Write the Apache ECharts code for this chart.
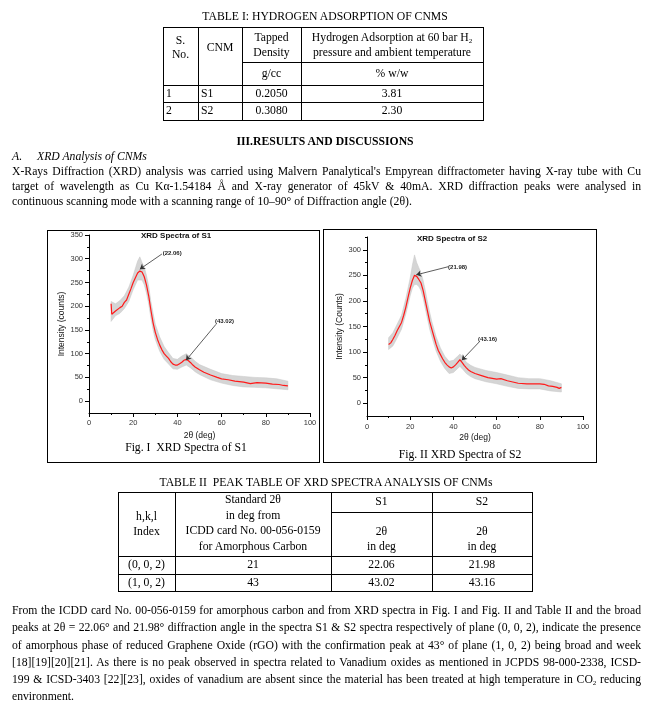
<!DOCTYPE html>
<html><head><meta charset="utf-8">
<script src="https://cdn.jsdelivr.net/npm/echarts@6/dist/echarts.min.js"></script>
<style>
body{margin:0;background:#fff;}
#page{position:relative;width:652px;height:702px;overflow:hidden;font-family:'Liberation Serif','Times New Roman',serif;color:#000;font-size:11.7px;}
#chart{position:absolute;left:0;top:0;width:652px;height:702px;}
.t{position:absolute;white-space:nowrap;line-height:14px;height:14px;z-index:2;}
.c{transform:translateX(-50%);}
.j{position:absolute;left:12px;width:629px;text-align:justify;text-align-last:justify;line-height:14px;z-index:2;}
.h{position:absolute;height:1px;background:#000;z-index:2;}
.v{position:absolute;width:1px;background:#000;z-index:2;}
.box{position:absolute;border:1px solid #000;box-sizing:border-box;z-index:2;}
sub{font-size:7px;vertical-align:-2px;line-height:0;}
</style></head>
<body><div id="page">
<div id="chart"></div>

<!-- Table I -->
<div class="t c" style="left:325px;top:10px;">TABLE I: HYDROGEN ADSORPTION OF CNMS</div>
<div class="h" style="left:163px;width:321px;top:27px;"></div>
<div class="h" style="left:242px;width:242px;top:62px;"></div>
<div class="h" style="left:163px;width:321px;top:85px;"></div>
<div class="h" style="left:163px;width:321px;top:102px;"></div>
<div class="h" style="left:163px;width:321px;top:120px;"></div>
<div class="v" style="left:163px;top:27px;height:94px;"></div>
<div class="v" style="left:198px;top:27px;height:94px;"></div>
<div class="v" style="left:242px;top:27px;height:94px;"></div>
<div class="v" style="left:301px;top:27px;height:94px;"></div>
<div class="v" style="left:483px;top:27px;height:94px;"></div>
<div class="t c" style="left:180.5px;top:34px;">S.</div>
<div class="t c" style="left:180.5px;top:48px;">No.</div>
<div class="t c" style="left:220px;top:41px;">CNM</div>
<div class="t c" style="left:271.5px;top:31px;">Tapped</div>
<div class="t c" style="left:271.5px;top:46px;">Density</div>
<div class="t c" style="left:392px;top:31px;">Hydrogen Adsorption at 60 bar H<sub>2</sub></div>
<div class="t c" style="left:392px;top:46px;">pressure and ambient temperature</div>
<div class="t c" style="left:271.5px;top:67px;">g/cc</div>
<div class="t c" style="left:392px;top:67px;">% w/w</div>
<div class="t" style="left:166px;top:86.5px;">1</div>
<div class="t" style="left:201px;top:86.5px;">S1</div>
<div class="t c" style="left:271.5px;top:86.5px;">0.2050</div>
<div class="t c" style="left:392px;top:86.5px;">3.81</div>
<div class="t" style="left:166px;top:104px;">2</div>
<div class="t" style="left:201px;top:104px;">S2</div>
<div class="t c" style="left:271.5px;top:104px;">0.3080</div>
<div class="t c" style="left:392px;top:104px;">2.30</div>

<!-- Section -->
<div class="t c" style="left:325px;top:135px;font-weight:bold;">III.RESULTS AND DISCUSSIONS</div>
<div class="t" style="left:12px;top:150px;font-style:italic;">A.</div>
<div class="t" style="left:37px;top:150px;font-style:italic;">XRD Analysis of CNMs</div>
<div class="j" style="top:165px;">X-Rays Diffraction (XRD) analysis was carried using Malvern Panalytical's Empyrean diffractometer having X-ray tube with Cu</div>
<div class="j" style="top:180px;">target of wavelength as Cu Kα-1.54184 Å and X-ray generator of 45kV &amp; 40mA. XRD diffraction peaks were analysed in</div>
<div class="t" style="left:12px;top:195px;">continuous scanning mode with a scanning range of 10–90° of Diffraction angle (2θ).</div>

<!-- Figure boxes and captions -->
<div class="box" style="left:47px;top:230px;width:273px;height:233px;"></div>
<div class="box" style="left:323px;top:229px;width:274px;height:234px;"></div>
<div class="t c" style="left:186px;top:441px;">Fig. I&nbsp; XRD Spectra of S1</div>
<div class="t c" style="left:460px;top:448px;">Fig. II XRD Spectra of S2</div>

<!-- Table II -->
<div class="t c" style="left:326px;top:476px;">TABLE II&nbsp; PEAK TABLE OF XRD SPECTRA ANALYSIS OF CNMs</div>
<div class="h" style="left:118px;width:415px;top:492px;"></div>
<div class="h" style="left:331px;width:202px;top:512px;"></div>
<div class="h" style="left:118px;width:415px;top:556px;"></div>
<div class="h" style="left:118px;width:415px;top:574px;"></div>
<div class="h" style="left:118px;width:415px;top:591px;"></div>
<div class="v" style="left:118px;top:492px;height:100px;"></div>
<div class="v" style="left:175px;top:492px;height:100px;"></div>
<div class="v" style="left:331px;top:492px;height:100px;"></div>
<div class="v" style="left:432px;top:492px;height:100px;"></div>
<div class="v" style="left:532px;top:492px;height:100px;"></div>
<div class="t c" style="left:381.5px;top:495px;">S1</div>
<div class="t c" style="left:482px;top:495px;">S2</div>
<div class="t c" style="left:253px;top:493px;">Standard 2θ</div>
<div class="t c" style="left:253px;top:509px;">in deg from</div>
<div class="t c" style="left:253px;top:524px;">ICDD card No. 00-056-0159</div>
<div class="t c" style="left:253px;top:540px;">for Amorphous Carbon</div>
<div class="t c" style="left:146.5px;top:510px;">h,k,l</div>
<div class="t c" style="left:146.5px;top:525px;">Index</div>
<div class="t c" style="left:381.5px;top:525px;">2θ</div>
<div class="t c" style="left:381.5px;top:540px;">in deg</div>
<div class="t c" style="left:482px;top:525px;">2θ</div>
<div class="t c" style="left:482px;top:540px;">in deg</div>
<div class="t c" style="left:146.5px;top:558px;">(0, 0, 2)</div>
<div class="t c" style="left:253px;top:558px;">21</div>
<div class="t c" style="left:381.5px;top:558px;">22.06</div>
<div class="t c" style="left:482px;top:558px;">21.98</div>
<div class="t c" style="left:146.5px;top:575.5px;">(1, 0, 2)</div>
<div class="t c" style="left:253px;top:575.5px;">43</div>
<div class="t c" style="left:381.5px;top:575.5px;">43.02</div>
<div class="t c" style="left:482px;top:575.5px;">43.16</div>

<!-- Final paragraph -->
<div class="j" style="top:604px;">From the ICDD card No. 00-056-0159 for amorphous carbon and from XRD spectra in Fig. I and Fig. II and Table II and the broad</div>
<div class="j" style="top:621px;">peaks at 2θ = 22.06° and 21.98° diffraction angle in the spectra S1 &amp; S2 spectra respectively of plane (0, 0, 2), indicate the presence</div>
<div class="j" style="top:638.5px;">of amorphous phase of reduced Graphene Oxide (rGO) with the confirmation peak at 43° of plane (1, 0, 2) being broad and week</div>
<div class="j" style="top:655.5px;">[18][19][20][21]. As there is no peak observed in spectra related to Vanadium oxides as mentioned in JCPDS 98-000-2338, ICSD-</div>
<div class="j" style="top:673px;">199 &amp; ICSD-3403 [22][23], oxides of vanadium are absent since the material has been treated at high temperature in CO<sub>2</sub> reducing</div>
<div class="t" style="left:12px;top:690px;">environment.</div>
</div>

<script>
// ---- Data ----
const xTickValues = [0, 20, 40, 60, 80, 100];

// S1 smoothed (red) curve
const s1X   = [10, 10.3, 12, 14, 15, 16, 17, 18, 19, 20, 21, 22, 23, 24, 25, 26, 27, 28, 29, 30, 31, 32, 33, 34, 35, 36, 37, 38, 39, 40, 41, 42, 43, 44, 45, 46, 47, 48, 50, 52, 55, 58, 60, 63, 66, 70, 73, 76, 80, 83, 86, 88, 90];
const s1Red = [205, 183, 190, 197, 200, 208, 213, 225, 237, 250, 260, 270, 274, 272, 262, 245, 222, 192, 165, 145, 130, 118, 108, 100, 95, 90, 83, 78, 76, 76, 79, 82, 86, 88, 85, 81, 76, 72, 66, 61, 55, 50, 47, 45, 42, 40, 37, 39, 38, 36, 35, 33, 32];
// S1 raw-data (grey) envelope
const s1BandX = [10, 12, 14, 16, 18, 20, 22, 23, 24, 25, 26, 27, 28, 29, 30, 32, 34, 36, 38, 40, 42, 44, 46, 48, 50, 55, 60, 65, 70, 75, 80, 85, 90];
const s1Lo    = [168, 180, 185, 195, 210, 235, 255, 255, 255, 245, 228, 205, 175, 150, 130, 105, 88, 78, 68, 67, 72, 76, 70, 62, 56, 45, 38, 33, 30, 29, 28, 26, 24];
const s1Hi    = [210, 205, 212, 222, 240, 265, 295, 304, 292, 282, 265, 242, 210, 185, 162, 135, 115, 102, 90, 88, 95, 100, 93, 84, 77, 67, 58, 54, 52, 50, 49, 47, 42];

// S2 smoothed (red) curve
const s2X   = [10, 11, 12, 13, 14, 15, 16, 17, 18, 19, 20, 21, 22, 23, 24, 25, 26, 27, 28, 29, 30, 31, 32, 33, 34, 35, 36, 37, 38, 39, 40, 41, 42, 43, 44, 45, 46, 47, 48, 50, 53, 56, 60, 62, 65, 70, 74, 78, 80, 82, 84, 86, 88, 89, 90];
const s2Red = [115, 118, 125, 133, 142, 150, 158, 172, 188, 207, 225, 240, 250, 248, 242, 235, 220, 200, 180, 160, 145, 130, 115, 103, 95, 87, 80, 75, 71, 69, 71, 75, 80, 85, 80, 74, 69, 65, 62, 58, 54, 50, 47, 48, 44, 39, 38, 38, 38, 37, 34, 33, 31, 29, 31];
// S2 raw-data (grey) envelope
const s2BandX = [10, 12, 14, 16, 18, 20, 21, 22, 23, 24, 25, 26, 27, 28, 29, 30, 32, 34, 36, 38, 40, 42, 43, 44, 46, 48, 50, 55, 60, 65, 70, 75, 80, 85, 90];
const s2Lo    = [105, 112, 128, 145, 175, 210, 225, 232, 232, 228, 220, 205, 185, 165, 145, 130, 102, 82, 68, 58, 60, 68, 72, 68, 58, 52, 48, 42, 38, 33, 29, 28, 28, 24, 22];
const s2Hi    = [128, 138, 155, 172, 205, 245, 270, 290, 275, 265, 255, 240, 220, 198, 178, 160, 130, 108, 92, 82, 84, 92, 96, 92, 80, 74, 70, 64, 60, 55, 50, 48, 48, 44, 38];

// Peak annotations: label, label anchor [x, y], arrow start [x, y], arrow end [x, y]
const s1Peaks = [
  ['(22.06)', [33.3, 312], [33, 310], [23, 278]],
  ['(43.02)', [57.0, 169], [57.5, 162], [43.9, 86]]
];
const s2Peaks = [
  ['(21.98)', [37.5, 266], [37.7, 267], [22.8, 251]],
  ['(43.16)', [51.4, 125], [52, 120], [43.9, 84]]
];

// ---- Chart ----
const sans = 'Liberation Sans, Arial, sans-serif';
function xAxisCfg(gi, gap, margin) {
  return {
    type: 'value', gridIndex: gi, min: 0, max: 100, interval: 20,
    axisLine: { onZero: false, lineStyle: { color: '#000', width: 1 } },
    axisTick: { length: 4, lineStyle: { color: '#000', width: 1 } },
    minorTick: { show: true, splitNumber: 2, length: 2, lineStyle: { color: '#000', width: 1 } },
    splitLine: { show: false }, minorSplitLine: { show: false },
    axisLabel: { fontSize: 7.5, color: '#333', margin: margin, fontFamily: sans, customValues: xTickValues },
    name: '2θ (deg)', nameLocation: 'middle', nameGap: gap,
    nameTextStyle: { fontSize: 8.5, color: '#111', fontFamily: sans }
  };
}
function yAxisCfgs(gi, yMax, name, gap) {
  const major = [], minor = [];
  for (let v = 0; v <= yMax; v += 50) major.push(v);
  for (let v = 25; v <= yMax; v += 50) minor.push(v);
  return [{
    type: 'value', gridIndex: gi, position: 'left', min: -25, max: yMax, interval: 25,
    axisLine: { show: true, onZero: false, lineStyle: { color: '#000', width: 1 } },
    axisTick: { length: 4, customValues: major, lineStyle: { color: '#000', width: 1 } },
    splitLine: { show: false },
    axisLabel: { fontSize: 7.5, color: '#333', margin: 6, fontFamily: sans, customValues: major },
    name: name, nameLocation: 'middle', nameGap: gap, nameRotate: 90,
    nameTextStyle: { fontSize: 8.5, color: '#111', fontFamily: sans }
  }, {
    type: 'value', gridIndex: gi, position: 'left', offset: 0, min: -25, max: yMax, interval: 25,
    axisLine: { show: false, onZero: false },
    axisTick: { length: 2, customValues: minor, lineStyle: { color: '#000', width: 1 } },
    splitLine: { show: false }, axisLabel: { show: false }
  }];
}
function seriesFor(gi, yi, X, red, BX, lo, hi, peaks) {
  return [{
    type: 'custom', xAxisIndex: gi, yAxisIndex: yi, silent: true, z: 1,
    data: [[BX[0], lo[0]]],
    renderItem: function (params, api) {
      const pts = [];
      for (let i = 0; i < BX.length; i++) pts.push(api.coord([BX[i], hi[i]]));
      for (let i = BX.length - 1; i >= 0; i--) pts.push(api.coord([BX[i], lo[i]]));
      return { type: 'polygon', shape: { points: pts }, style: { fill: '#d5d5d5', stroke: '#c6c6c6', lineWidth: 0.5 } };
    }
  }, {
    type: 'line', xAxisIndex: gi, yAxisIndex: yi, symbol: 'none', silent: true,
    data: X.map((x, i) => [x, red[i]]),
    lineStyle: { color: '#ff1a1a', width: 1.2 }, z: 3,
    markLine: {
      silent: true, symbol: ['none', 'arrow'], symbolSize: 5, animation: false,
      lineStyle: { color: '#333', width: 0.8, type: 'solid' }, label: { show: false },
      data: peaks.map(p => [{ coord: p[2] }, { coord: p[3] }])
    },
    markPoint: {
      silent: true, symbol: 'circle', symbolSize: 0.1, animation: false,
      itemStyle: { color: 'rgba(0,0,0,0)' },
      label: { show: true, position: 'right', distance: 0, fontSize: 6, fontWeight: 'bold', color: '#222', fontFamily: sans, formatter: p => p.name },
      data: peaks.map(p => ({ name: p[0], coord: p[1] }))
    }
  }];
}

const y1 = yAxisCfgs(0, 350, 'Intensity (counts)', 20);
const y2 = yAxisCfgs(1, 325, 'Intensity (Counts)', 19);
const option = {
  animation: false,
  backgroundColor: 'transparent',
  title: [
    { text: 'XRD Spectra of S1', left: 141, top: 232, padding: 0, textStyle: { fontSize: 8, fontWeight: 'bold', color: '#111', fontFamily: sans } },
    { text: 'XRD Spectra of S2', left: 417, top: 235, padding: 0, textStyle: { fontSize: 8, fontWeight: 'bold', color: '#111', fontFamily: sans } }
  ],
  grid: [
    { left: 89, top: 235, width: 221, height: 178 },
    { left: 367, top: 237, width: 216, height: 179 }
  ],
  xAxis: [xAxisCfg(0, 18, 6), xAxisCfg(1, 17, 7)],
  yAxis: [y1[0], y1[1], y2[0], y2[1]],
  series: [].concat(
    seriesFor(0, 0, s1X, s1Red, s1BandX, s1Lo, s1Hi, s1Peaks),
    seriesFor(1, 2, s2X, s2Red, s2BandX, s2Lo, s2Hi, s2Peaks)
  )
};
const chart = echarts.init(document.getElementById('chart'), null, { renderer: 'canvas' });
chart.setOption(option);
</script>
</body></html>
